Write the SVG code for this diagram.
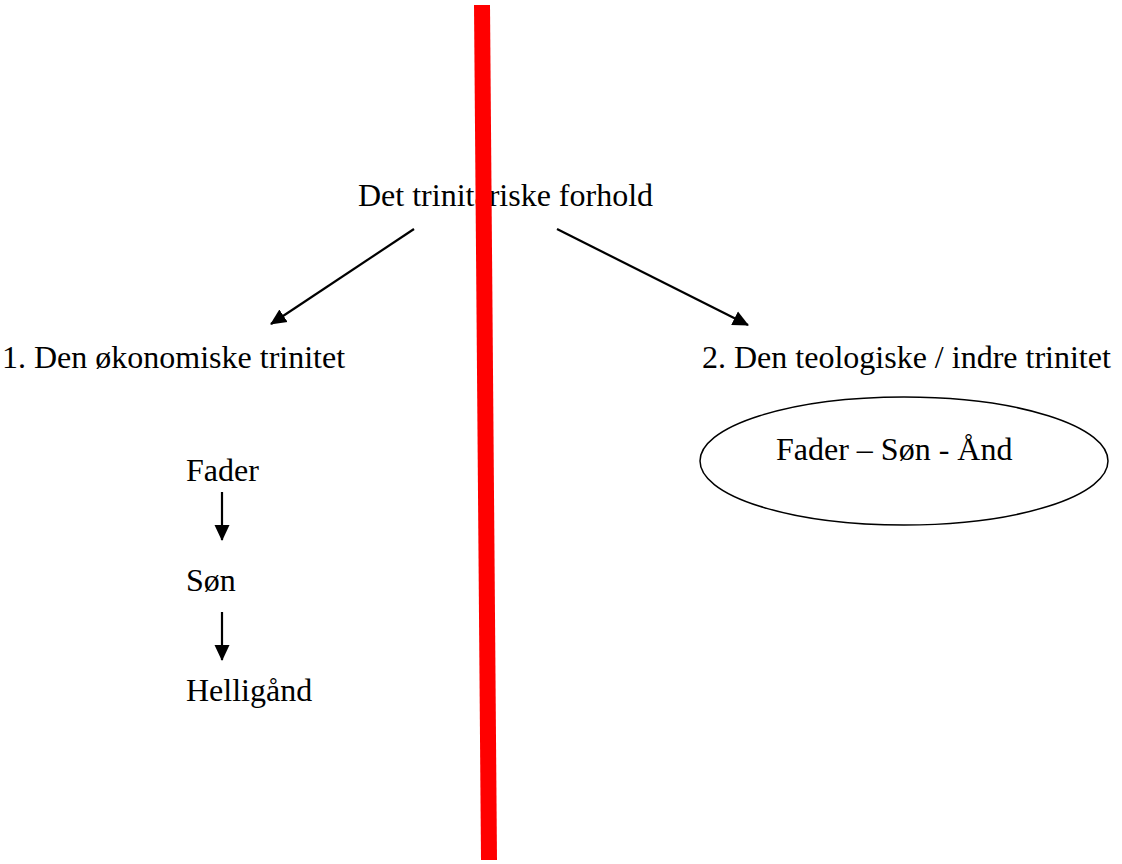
<svg xmlns="http://www.w3.org/2000/svg" width="1122" height="864" viewBox="0 0 1122 864">
<defs>
<marker id="ah" markerWidth="16" markerHeight="16" refX="15" refY="8" orient="auto" markerUnits="userSpaceOnUse" viewBox="0 0 16 16">
<path d="M0,0.5 L16,8 L0,15.5 z" fill="#000"/>
</marker>
<style>
text{font-family:"Liberation Serif","Times New Roman",serif;font-size:32px;fill:#000}
.c{stroke:#000;stroke-width:2.2;fill:none}
</style>
</defs>
<rect width="1122" height="864" fill="#fff"/>
<g id="title"><text x="358" y="206">Det trinitariske forhold</text></g>
<g id="econ"><text x="2" y="368">1. Den økonomiske trinitet</text></g>
<g id="theo"><text x="702" y="368">2. Den teologiske / indre trinitet</text></g>
<g id="ellipse"><ellipse cx="904" cy="461" rx="204" ry="64" fill="none" stroke="#000" stroke-width="1.5"/><text x="776" y="460">Fader – Søn - Ånd</text></g>
<g id="fader"><text x="186" y="481">Fader</text></g>
<g id="son"><text x="186" y="591">Søn</text></g>
<g id="hellig"><text x="186" y="701">Helligånd</text></g>
<g id="connectors">
<line class="c" x1="414" y1="229" x2="271" y2="324" marker-end="url(#ah)"/>
<line class="c" x1="557" y1="229" x2="748" y2="325" marker-end="url(#ah)"/>
<line class="c" x1="222" y1="492" x2="222" y2="540" marker-end="url(#ah)"/>
<line class="c" x1="222" y1="612" x2="222" y2="660" marker-end="url(#ah)"/>
</g>
<g id="redline"><line x1="482" y1="5" x2="489" y2="860" stroke="#f00" stroke-width="16"/></g>
</svg>
